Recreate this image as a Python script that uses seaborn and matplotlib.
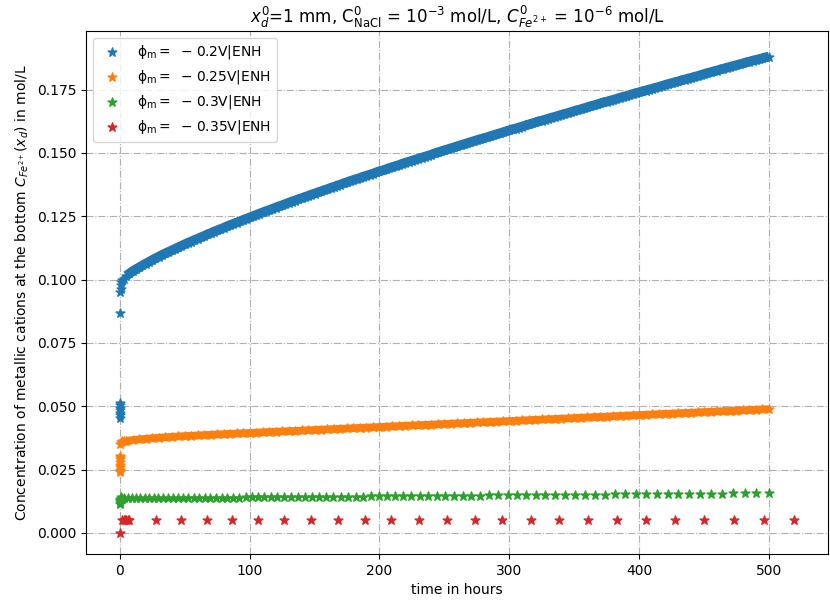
import matplotlib
matplotlib.use("Agg")
import matplotlib.pyplot as plt
import matplotlib.ticker as mticker
import seaborn as sns
import pandas as pd

# ---------------- data ----------------
blue_early_t = [0.0, 0.0, 0.0, 0.0, 0.0, 0.0, 0.0, 0.2, 0.4, 0.6, 0.9, 1.3, 2.0, 3.0]
blue_early_c = [0.0455, 0.0465, 0.0475, 0.0485, 0.0495, 0.0505, 0.0512, 0.0868, 0.0949, 0.0962,
                0.0978, 0.0990, 0.0997, 0.1004]
blue_curve_t = [5, 7.5, 10, 12.5, 15, 17.5, 20, 22.5, 25, 27.5,
                30, 32.5, 35, 37.5, 40, 42.5, 45, 47.5, 50, 52.5,
                55, 57.5, 60, 62.5, 65, 67.5, 70, 72.5, 75, 77.5,
                80, 82.5, 85, 87.5, 90, 92.5, 95, 97.5, 100, 102.5,
                105, 107.5, 110, 112.5, 115, 117.5, 120, 122.5, 125, 127.5,
                130, 132.5, 135, 137.5, 140, 142.5, 145, 147.5, 150, 152.5,
                155, 157.5, 160, 162.5, 165, 167.5, 170, 172.5, 175, 177.5,
                180, 182.5, 185, 187.5, 190, 192.5, 195, 197.5, 200, 202.5,
                205, 207.5, 210, 212.5, 215, 217.5, 220, 222.5, 225, 227.5,
                230, 232.5, 235, 237.5, 240, 242.5, 245, 247.5, 250, 252.5,
                255, 257.5, 260, 262.5, 265, 267.5, 270, 272.5, 275, 277.5,
                280, 282.5, 285, 287.5, 290, 292.5, 295, 297.5, 300, 302.5,
                305, 307.5, 310, 312.5, 315, 317.5, 320, 322.5, 325, 327.5,
                330, 332.5, 335, 337.5, 340, 342.5, 345, 347.5, 350, 352.5,
                355, 357.5, 360, 362.5, 365, 367.5, 370, 372.5, 375, 377.5,
                380, 382.5, 385, 387.5, 390, 392.5, 395, 397.5, 400, 402.5,
                405, 407.5, 410, 412.5, 415, 417.5, 420, 422.5, 425, 427.5,
                430, 432.5, 435, 437.5, 440, 442.5, 445, 447.5, 450, 452.5,
                455, 457.5, 460, 462.5, 465, 467.5, 470, 472.5, 475, 477.5,
                480, 482.5, 485, 487.5, 490, 492.5, 495, 497.5, 500]
blue_curve_c = [0.1015, 0.1024, 0.1033, 0.1041, 0.1048, 0.1056, 0.1063, 0.1070, 0.1077, 0.1084,
                0.1090, 0.1097, 0.1103, 0.1109, 0.1115, 0.1121, 0.1127, 0.1133, 0.1139, 0.1145,
                0.1150, 0.1156, 0.1161, 0.1167, 0.1172, 0.1178, 0.1183, 0.1189, 0.1194, 0.1199,
                0.1204, 0.1210, 0.1215, 0.1220, 0.1225, 0.1230, 0.1235, 0.1240, 0.1245, 0.1250,
                0.1255, 0.1260, 0.1265, 0.1270, 0.1274, 0.1279, 0.1284, 0.1289, 0.1293, 0.1298,
                0.1303, 0.1308, 0.1312, 0.1317, 0.1321, 0.1326, 0.1330, 0.1335, 0.1339, 0.1344,
                0.1348, 0.1353, 0.1357, 0.1362, 0.1366, 0.1371, 0.1375, 0.1380, 0.1384, 0.1389,
                0.1393, 0.1397, 0.1401, 0.1406, 0.1410, 0.1414, 0.1418, 0.1423, 0.1427, 0.1431,
                0.1435, 0.1440, 0.1444, 0.1448, 0.1452, 0.1457, 0.1461, 0.1465, 0.1469, 0.1473,
                0.1477, 0.1481, 0.1485, 0.1489, 0.1493, 0.1498, 0.1502, 0.1506, 0.1510, 0.1514,
                0.1518, 0.1522, 0.1526, 0.1530, 0.1534, 0.1538, 0.1542, 0.1546, 0.1550, 0.1554,
                0.1557, 0.1561, 0.1565, 0.1569, 0.1573, 0.1577, 0.1581, 0.1585, 0.1589, 0.1593,
                0.1596, 0.1600, 0.1604, 0.1608, 0.1612, 0.1616, 0.1620, 0.1624, 0.1627, 0.1631,
                0.1635, 0.1639, 0.1642, 0.1646, 0.1650, 0.1654, 0.1657, 0.1661, 0.1665, 0.1669,
                0.1672, 0.1676, 0.1680, 0.1684, 0.1687, 0.1691, 0.1695, 0.1699, 0.1702, 0.1706,
                0.1709, 0.1713, 0.1717, 0.1721, 0.1724, 0.1728, 0.1732, 0.1736, 0.1739, 0.1743,
                0.1746, 0.1750, 0.1753, 0.1757, 0.1760, 0.1764, 0.1768, 0.1772, 0.1775, 0.1779,
                0.1782, 0.1786, 0.1789, 0.1793, 0.1796, 0.1800, 0.1803, 0.1807, 0.1811, 0.1815,
                0.1818, 0.1822, 0.1825, 0.1829, 0.1832, 0.1836, 0.1839, 0.1843, 0.1846, 0.1850,
                0.1853, 0.1857, 0.1860, 0.1864, 0.1867, 0.1870, 0.1873, 0.1877, 0.1880]

orange_early_t = [0.0, 0.0, 0.0, 0.0, 0.0, 0.0, 0.0, 0.0, 0.3, 1.0, 2.0, 3.0]
orange_early_c = [0.0240, 0.0250, 0.0260, 0.0270, 0.0280, 0.0290, 0.0300, 0.0305, 0.0352, 0.0358,
                  0.0361, 0.0362]
orange_curve_t = [5, 10, 15, 20, 25, 30, 35, 40, 45, 50, 55, 60, 65, 70, 75, 80, 85, 90, 95, 100,
                  105, 110, 115, 120, 125, 130, 135, 140, 145, 150, 155, 160, 165, 170, 175, 180, 185, 190, 195, 200,
                  205, 210, 215, 220, 225, 230, 235, 240, 245, 250, 255, 260, 265, 270, 275, 280, 285, 290, 295, 300,
                  305, 310, 315, 320, 325, 330, 335, 340, 345, 350, 355, 360, 365, 370, 375, 380, 385, 390, 395, 400,
                  405, 410, 415, 420, 425, 430, 435, 440, 445, 450, 455, 460, 465, 470, 475, 480, 485, 490, 495, 500]
orange_curve_c = [0.03640, 0.03670, 0.03695, 0.03718, 0.03740, 0.03760, 0.03778, 0.03795, 0.03811, 0.03826,
                  0.03840, 0.03853, 0.03866, 0.03879, 0.03891, 0.03903, 0.03915, 0.03927, 0.03938, 0.03950,
                  0.03962, 0.03974, 0.03985, 0.03997, 0.04009, 0.04021, 0.04032, 0.04044, 0.04056, 0.04068,
                  0.04079, 0.04091, 0.04103, 0.04115, 0.04126, 0.04138, 0.04150, 0.04162, 0.04173, 0.04185,
                  0.04197, 0.04209, 0.04220, 0.04232, 0.04244, 0.04256, 0.04267, 0.04279, 0.04291, 0.04303,
                  0.04314, 0.04326, 0.04338, 0.04350, 0.04361, 0.04373, 0.04385, 0.04397, 0.04408, 0.04420,
                  0.04432, 0.04444, 0.04455, 0.04467, 0.04479, 0.04491, 0.04502, 0.04514, 0.04526, 0.04538,
                  0.04549, 0.04561, 0.04573, 0.04585, 0.04596, 0.04608, 0.04620, 0.04632, 0.04643, 0.04655,
                  0.04667, 0.04679, 0.04690, 0.04702, 0.04714, 0.04726, 0.04737, 0.04749, 0.04761, 0.04773,
                  0.04784, 0.04796, 0.04808, 0.04820, 0.04831, 0.04843, 0.04855, 0.04867, 0.04878, 0.04890]

green_t = [0.0, 0.0, 0.0, 0.0, 0.3, 0.8, 1.5,
           3.0, 6.1, 9.3, 12.6, 15.9, 19.3, 22.7, 26.2, 29.8, 33.5, 37.2, 41.0, 44.9, 48.9, 52.9,
           57.0, 61.1, 65.3, 69.6, 74.0, 78.4, 82.9, 87.5, 92.2, 96.9, 101.7, 106.5, 111.4, 116.4,
           121.5, 126.6, 131.8, 137.1, 142.5, 147.9, 153.4, 158.9, 164.5, 170.2, 176.0, 181.8, 187.7,
           193.7, 199.8, 205.9, 212.1, 218.3, 224.6, 231.0, 237.5, 244.0, 250.6, 257.3, 264.1, 270.9,
           277.8, 284.7, 291.7, 298.8, 306.0, 313.2, 320.5, 327.9, 335.4, 342.9, 350.5, 358.1, 365.8,
           373.6, 381.5, 389.4, 397.4, 405.5, 413.7, 421.9, 430.2, 438.5, 446.9, 455.4, 464.0, 472.6,
           481.3, 490.1, 500.0]
green_c = [0.0114, 0.0120, 0.0126, 0.0131, 0.0135, 0.0142, 0.0136,
           0.01361, 0.01363, 0.01364, 0.01365, 0.01367, 0.01368, 0.01370, 0.01371, 0.01373, 0.01374,
           0.01376, 0.01377, 0.01379, 0.01381, 0.01382, 0.01384, 0.01386, 0.01387, 0.01389, 0.01391,
           0.01393, 0.01395, 0.01397, 0.01399, 0.01401, 0.01403, 0.01405, 0.01407, 0.01409, 0.01411,
           0.01413, 0.01415, 0.01418, 0.01420, 0.01422, 0.01424, 0.01427, 0.01429, 0.01431, 0.01434,
           0.01436, 0.01439, 0.01441, 0.01444, 0.01446, 0.01449, 0.01452, 0.01454, 0.01457, 0.01460,
           0.01462, 0.01465, 0.01468, 0.01471, 0.01474, 0.01477, 0.01480, 0.01483, 0.01486, 0.01489,
           0.01492, 0.01495, 0.01498, 0.01501, 0.01504, 0.01507, 0.01510, 0.01514, 0.01517, 0.01520,
           0.01524, 0.01527, 0.01530, 0.01534, 0.01537, 0.01541, 0.01544, 0.01548, 0.01551, 0.01555,
           0.01558, 0.01562, 0.01566, 0.01570]

red_t = [0.0, 2.0, 3.0, 4.0, 5.0, 6.0, 7.0,
         27.6, 47.2, 66.9, 86.8, 106.8, 126.8, 147.2, 167.9, 188.6, 209.3, 230.7, 251.8,
         273.3, 294.7, 316.5, 338.3, 360.5, 382.6, 405.2, 427.7, 450.2, 473.1, 496.4, 519.6]
red_c = [0.0000, 0.0053, 0.0053, 0.0053, 0.0053, 0.0053, 0.0053,
         0.0053, 0.0053, 0.0053, 0.0053, 0.0053, 0.0053, 0.0053, 0.0053, 0.0053, 0.0053, 0.0053, 0.0053,
         0.0053, 0.0053, 0.0053, 0.0053, 0.0053, 0.0053, 0.0053, 0.0053, 0.0053, 0.0053, 0.0053, 0.0053]

potentials = ["0.2", "0.25", "0.3", "0.35"]

series = [
    (blue_early_t + blue_curve_t, blue_early_c + blue_curve_c),
    (orange_early_t + orange_curve_t, orange_early_c + orange_curve_c),
    (green_t, green_c),
    (red_t, red_c),
]

# ---------------- figure ----------------
fig = plt.figure(figsize=(8.3, 6.05), dpi=100)
ax = fig.add_axes([0.1036, 0.0843, 0.8940, 0.8645])

palette = sns.color_palette("tab10")

# dense star runs merge into a solid band in the original; emulate with a thick stroke
sns.lineplot(x=blue_curve_t, y=blue_curve_c, color=palette[0], linewidth=7.0,
             estimator=None, sort=False, legend=False, zorder=2, ax=ax,
             solid_capstyle="butt")
sns.lineplot(x=orange_curve_t, y=orange_curve_c, color=palette[1], linewidth=5.5,
             estimator=None, sort=False, legend=False, zorder=2, ax=ax,
             solid_capstyle="butt")

for i, ((t, c), pot) in enumerate(zip(series, potentials)):
    df = pd.DataFrame({"t": t, "c": c})
    sns.scatterplot(data=df, x="t", y="c", marker="*", s=44, color=palette[i],
                    edgecolor=palette[i], linewidth=1.0, zorder=2.1, ax=ax,
                    label=r"$\mathregular{\phi_m = \ \:-\;%sV|ENH}$" % pot)

ax.set_xlim(-26, 545.5)
ax.set_ylim(-0.0083, 0.1981)
ax.set_xticks([0, 100, 200, 300, 400, 500])
ax.set_yticks([0.0, 0.025, 0.05, 0.075, 0.1, 0.125, 0.15, 0.175])
ax.yaxis.set_major_formatter(mticker.FormatStrFormatter("%.3f"))
ax.grid(True, linestyle="-.", color="#b0b0b0", linewidth=0.8)
ax.set_axisbelow(True)
for sp in ax.spines.values():
    sp.set_color("black")
    sp.set_linewidth(0.8)

ax.set_xlabel("time in hours", fontsize=10)
ax.set_ylabel(r"Concentration of metallic cations at the bottom $C_{Fe^{2+}}(x_d)$ in mol/L", fontsize=10)
ax.set_title(r"$x_d^0$=1 mm, $\mathrm{C^0_{NaCl}}$ = 10$^{-3}$ mol/L, $C^0_{Fe^{2+}}$ = 10$^{-6}$ mol/L",
             fontsize=12)
ax.legend(loc="upper left", fontsize=10)

fig.savefig("out.png", dpi=100)
